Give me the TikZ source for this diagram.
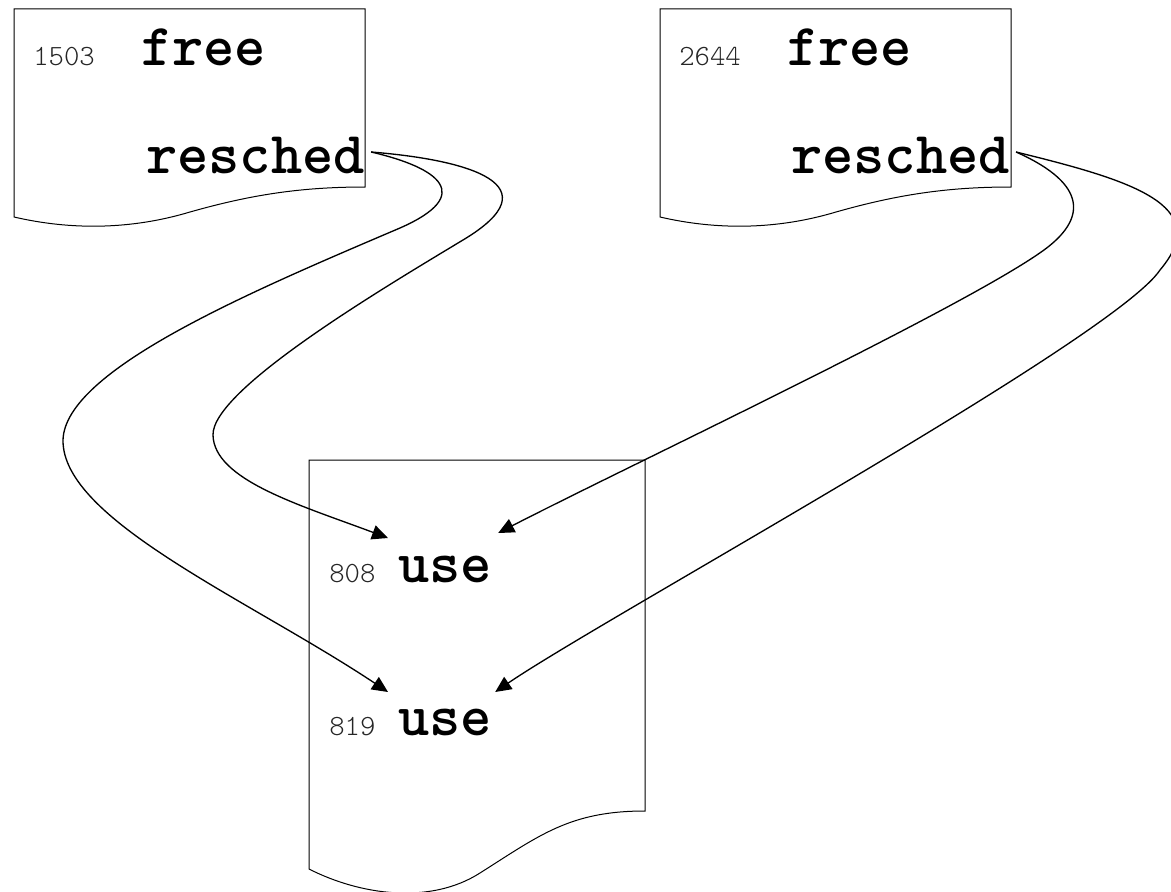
\documentclass[tikz,border=0pt]{standalone}
\usepackage{fontspec}
\newfontfamily\typew{lmmonolt10-regular.otf}[BoldFont=lmmonolt10-bold.otf]
\usetikzlibrary{arrows.meta,calc}
\begin{document}
\begin{tikzpicture}[x=0.75pt,y=-0.75pt,
  page/.style={draw=black,line width=0.75pt},
  lineno/.style={font=\typew\fontsize{22}{23}\selectfont,text=black!85,anchor=base west,inner sep=0pt},
  call/.style={font=\typew\bfseries\fontsize{44.6}{45}\selectfont,anchor=base west,inner sep=0pt},
  link/.style={line width=1pt,-{Triangle[length=12pt,width=11pt]}}]
\useasboundingbox (0,0) rectangle (1171,892);

% source pages with a wavy lower edge
\draw[page] (14,9) -- (365,9) -- (365,187)
  .. controls (300,187) and (250,195) .. (190,212)
  .. controls (130,230) and (70,230) .. (14,217) -- cycle;
\draw[page] (660,9) -- (1011,9) -- (1011,187)
  .. controls (946,187) and (896,195) .. (836,212)
  .. controls (776,230) and (716,230) .. (660,217) -- cycle;
% target page
\draw[page] (309,460) -- (645,460) -- (645,811)
  .. controls (570,811) and (540,835) .. (480,873)
  .. controls (430,905) and (360,895) .. (309,869) -- cycle;

% first source
\node[lineno] (n1503) at (33,66) {1503};
\node[call] (free1) at (141,65) {free};
\node[call] (res1) at (146,173) {resched};
% second source
\node[lineno] (n2644) at (679,66) {2644};
\node[call] (free2) at (787,65) {free};
\node[call] (res2) at (791,173) {resched};
% target lines
\node[lineno] (n808) at (329,582) {808};
\node[call] (use1) at (398,582) {use};
\node[lineno] (n819) at (329,735) {819};
\node[call] (use2) at (398,735) {use};

% connector ends
\coordinate (r1) at ($(res1.base east)+(6,-21)$);
\coordinate (r2) at ($(res2.base east)+(6,-21)$);
\coordinate (u1w) at ($(use1.base west)+(-10,-44)$);
\coordinate (u1e) at ($(use1.base east)+(6,-49)$);
\coordinate (u2w) at ($(use2.base west)+(-10,-43)$);
\coordinate (u2e) at ($(use2.base east)+(3,-43)$);

% flows from the first resched
\draw[link] (r1) .. controls (440,168) and (475,195) .. (400,228)
  .. controls (250,292) and (65,370) .. (63,440)
  .. controls (62,520) and (250,600) .. (u2w);
\draw[link] (r1) .. controls (470,160) and (555,185) .. (463,240)
  .. controls (380,290) and (212,390) .. (213,435)
  .. controls (214,480) and (300,505) .. (u1w);
% flows from the second resched
\draw[link] (r2) .. controls (1090,185) and (1085,220) .. (1044,250)
  .. controls (964,308) and (620,470) .. (u1e);
\draw[link] (r2) .. controls (1130,180) and (1215,205) .. (1160,270)
  .. controls (1114,339) and (600,620) .. (u2e);
\end{tikzpicture}
\end{document}
